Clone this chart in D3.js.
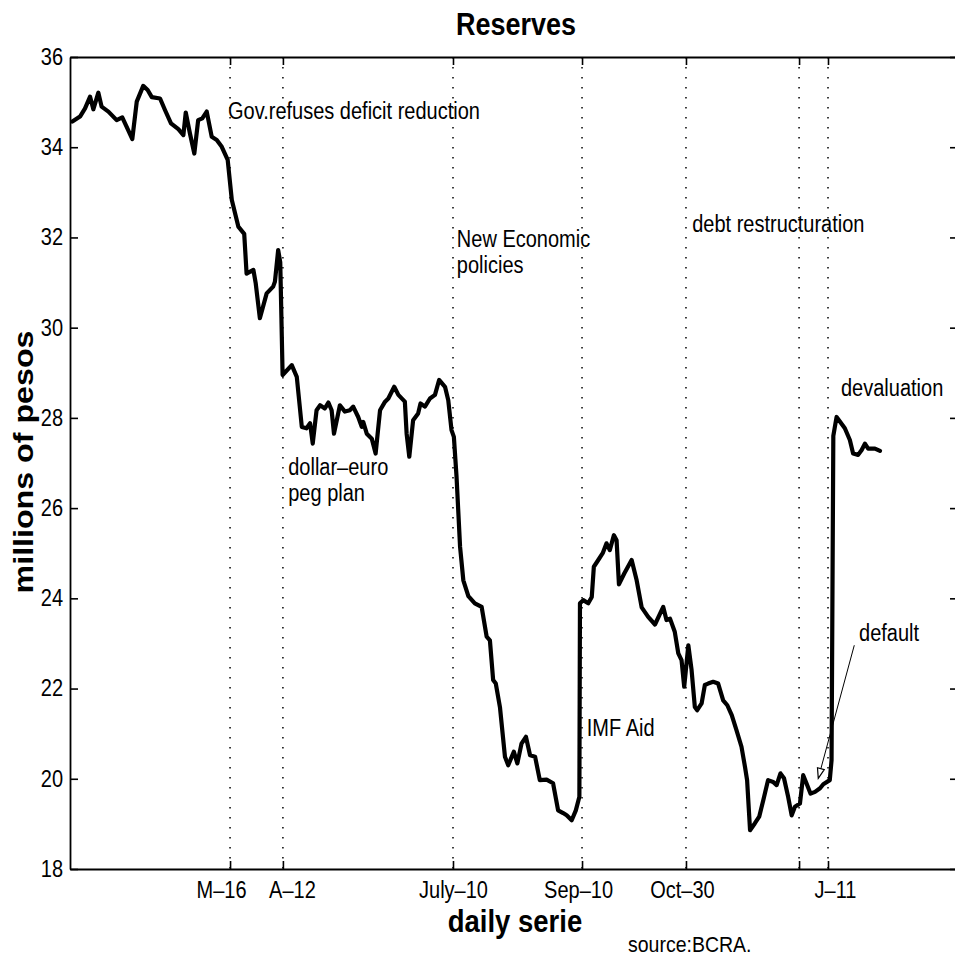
<!DOCTYPE html>
<html>
<head>
<meta charset="utf-8">
<script src="https://cdn.jsdelivr.net/npm/d3@7"></script>
<style>
  body { margin: 0; background: #fff; overflow: hidden; }
  text { font-family: "Liberation Sans", Arial, Helvetica, sans-serif; fill: #000; }
</style>
</head>
<body>
<script>
const width = 955;
const height = 960;

// daily reserves: [trading day, millions of pesos]
const reserves = [
  [0.8, 34.57], [3.4, 34.68], [5.1, 34.86], [6.8, 35.12], [7.9, 34.84], [9.6, 35.21],
  [10.7, 34.90], [13.0, 34.79], [15.8, 34.60], [17.7, 34.66], [19.7, 34.38], [21.1, 34.18],
  [22.6, 35.01], [24.8, 35.36], [26.3, 35.27], [27.7, 35.11], [30.5, 35.08], [32.2, 34.82],
  [34.2, 34.53], [36.7, 34.40], [38.4, 34.27], [39.2, 34.77], [40.6, 34.31], [42.1, 33.86],
  [43.4, 34.60], [44.8, 34.64], [46.3, 34.79], [48.0, 34.23], [49.7, 34.16], [51.4, 34.01],
  [53.4, 33.72], [54.8, 32.83], [57.0, 32.24], [59.0, 32.08], [59.8, 31.20], [62.1, 31.28],
  [62.9, 30.98], [64.3, 30.21], [66.6, 30.76], [68.8, 30.91], [69.4, 31.02], [70.5, 31.72],
  [71.2, 31.45], [72.0, 28.95], [75.1, 29.17], [76.8, 28.91], [78.5, 27.80], [80.1, 27.77],
  [81.3, 27.88], [82.2, 27.43], [83.5, 28.17], [84.7, 28.28], [86.3, 28.21], [87.5, 28.34],
  [88.6, 28.17], [89.4, 27.65], [91.4, 28.28], [93.1, 28.14], [94.8, 28.17], [95.9, 28.25],
  [97.6, 28.02], [98.8, 27.80], [99.3, 27.91], [100.5, 27.65], [102.2, 27.54], [103.5, 27.21],
  [105.0, 28.17], [106.7, 28.36], [107.8, 28.43], [109.8, 28.69], [111.2, 28.51], [113.4, 28.36],
  [114.0, 27.65], [114.9, 27.14], [116.2, 27.95], [117.9, 28.10], [118.7, 28.32], [120.2, 28.25],
  [121.9, 28.43], [123.6, 28.51], [125.0, 28.84], [127.0, 28.69], [128.1, 28.39], [129.2, 27.73],
  [130.0, 27.58], [130.9, 26.70], [132.1, 25.14], [133.2, 24.40], [134.9, 24.05], [137.1, 23.89],
  [139.4, 23.81], [141.1, 23.15], [142.2, 23.07], [143.3, 22.19], [144.2, 22.11], [145.6, 21.59],
  [147.3, 20.49], [148.4, 20.30], [150.3, 20.60], [151.5, 20.34], [152.9, 20.78], [154.4, 20.93],
  [155.8, 20.52], [157.5, 20.49], [159.1, 19.97], [161.4, 19.98], [163.6, 19.90], [165.3, 19.30],
  [167.0, 19.24], [168.2, 19.19], [169.9, 19.08], [171.3, 19.30], [172.5, 19.60], [172.7, 23.89],
  [173.8, 23.96], [175.5, 23.89], [176.7, 24.03], [177.4, 24.70], [178.9, 24.85], [180.4, 25.00],
  [181.7, 25.22], [182.8, 25.07], [184.2, 25.40], [185.1, 25.29], [185.9, 24.31], [187.7, 24.55],
  [190.2, 24.85], [191.9, 24.40], [193.6, 23.80], [195.8, 23.59], [198.1, 23.42], [200.9, 23.81],
  [202.0, 23.52], [203.2, 23.55], [204.8, 23.26], [206.0, 22.78], [207.1, 22.63], [208.0, 22.04],
  [209.4, 22.96], [210.5, 22.41], [211.6, 21.59], [212.4, 21.52], [213.9, 21.67], [215.0, 22.08],
  [216.1, 22.11], [217.8, 22.15], [219.5, 22.11], [221.2, 21.74], [222.6, 21.63], [224.1, 21.41],
  [225.7, 21.08], [227.4, 20.71], [228.6, 20.26], [229.3, 19.97], [230.3, 18.86], [231.9, 19.01],
  [233.4, 19.16], [234.8, 19.53], [236.4, 19.97], [238.1, 19.93], [239.3, 19.86], [240.6, 20.12],
  [241.8, 20.01], [243.2, 19.60], [244.4, 19.19], [245.5, 19.38], [247.2, 19.45], [248.3, 20.08],
  [249.4, 19.90], [250.8, 19.67], [252.3, 19.71], [254.0, 19.79], [255.1, 19.88], [257.3, 19.97],
  [257.9, 20.41], [258.5, 27.60], [259.6, 28.02], [262.4, 27.77], [264.1, 27.51], [265.2, 27.21],
  [266.9, 27.18], [268.1, 27.29], [269.2, 27.43], [270.3, 27.32], [272.6, 27.32], [274.3, 27.27]
];

const tickDays = [54.2, 72.1, 129.7, 173.4, 208.6, 246.9, 256.7];
const tickLabels = ["M\u201316", "A\u201312", "July\u201310", "Sep\u201310", "Oct\u201330", "", "J\u201311"];
const yTicks = [18, 20, 22, 24, 26, 28, 30, 32, 34, 36];

// annotations, anchored in data units (day, value of first baseline)
const notes = [
  { lines: ["Gov.refuses deficit reduction"], day: 53.5, value: 34.62 },
  { lines: ["New Economic", "policies"], day: 131.0, value: 31.79 },
  { lines: ["debt restructuration"], day: 210.7, value: 32.13 },
  { lines: ["dollar\u2013euro", "peg plan"], day: 73.9, value: 26.73 },
  { lines: ["IMF Aid"], day: 175.0, value: 20.94 },
  { lines: ["devaluation"], day: 261.1, value: 28.48 },
  { lines: ["default"], day: 267.2, value: 23.06 }
];
const defaultArrow = { from: [265.6, 22.96], to: [253.4, 20.01] };

// the right edge of the frame sits just past the picture, as in the scan
const x = d3.scaleLinear().domain([0, 301.4]).range([70, 960]);
const y = d3.scaleLinear().domain([18, 36]).range([869, 57]);

const stretch = 1.15; // glyphs in the scan are a bit taller than wide

const svg = d3.select("body")
  .append("svg")
  .attr("width", width)
  .attr("height", height);

// dotted event lines
svg.append("g")
  .selectAll("line")
  .data(tickDays)
  .join("line")
  .attr("x1", d => x(d))
  .attr("x2", d => x(d))
  .attr("y1", y(36))
  .attr("y2", y(18))
  .attr("stroke", "#111")
  .attr("stroke-width", 1.6)
  .attr("stroke-dasharray", "1.6 8.4");

function styleAxis(g) {
  g.attr("font-family", null).attr("font-size", 20);
  g.select(".domain").attr("stroke", "#000").attr("stroke-width", 1.8);
  g.selectAll(".tick line").attr("stroke", "#000").attr("stroke-width", 1.6);
  g.selectAll(".tick text").attr("fill", "#000").attr("transform", `scale(1,${stretch})`);
}

// labels in the scan sit slightly off their ticks
const labelNudge = { "M\u201316": -9, "A\u201312": 9, "Sep\u201310": -4, "Oct\u201330": -4, "J\u201311": 7 };

svg.append("g")
  .attr("transform", `translate(0,${y(18)})`)
  .call(d3.axisBottom(x).tickValues(tickDays).tickFormat((d, i) => tickLabels[i])
    .tickSizeInner(-8).tickSizeOuter(0).tickPadding(11))
  .call(styleAxis)
  .call(g => g.selectAll(".tick text").attr("dx", function () {
    return labelNudge[this.textContent] || 0;
  }));

svg.append("g")
  .attr("transform", `translate(0,${y(36)})`)
  .call(d3.axisTop(x).tickValues(tickDays).tickFormat("")
    .tickSizeInner(-8).tickSizeOuter(0))
  .call(styleAxis);

svg.append("g")
  .attr("transform", `translate(${x.range()[0]},0)`)
  .call(d3.axisLeft(y).tickValues(yTicks).tickFormat(d3.format("d"))
    .tickSizeInner(-8).tickSizeOuter(0).tickPadding(7))
  .call(styleAxis);

svg.append("g")
  .attr("transform", `translate(${x.range()[1] - 2},0)`)
  .call(d3.axisRight(y).tickValues(yTicks).tickFormat("")
    .tickSizeInner(-8).tickSizeOuter(0))
  .call(styleAxis);

// the series
const line = d3.line()
  .x(d => x(d[0]))
  .y(d => y(d[1]));

svg.append("path")
  .datum(reserves)
  .attr("d", line)
  .attr("fill", "none")
  .attr("stroke", "#000")
  .attr("stroke-width", 4.2)
  .attr("stroke-linejoin", "round")
  .attr("stroke-linecap", "round");

function put(str, px, py, size, bold, anchor) {
  return svg.append("text")
    .attr("transform", `translate(${px},${py}) scale(1,${stretch})`)
    .attr("font-size", size)
    .attr("font-weight", bold ? "bold" : null)
    .attr("text-anchor", anchor || "start")
    .text(str);
}

// annotations
notes.forEach(n => {
  n.lines.forEach((s, i) => put(s, x(n.day), y(n.value) + i * 26, 20));
});

// arrow to the default point
const ax1 = x(defaultArrow.from[0]), ay1 = y(defaultArrow.from[1]);
const ax2 = x(defaultArrow.to[0]), ay2 = y(defaultArrow.to[1]);
const ang = Math.atan2(ay2 - ay1, ax2 - ax1);
svg.append("line")
  .attr("x1", ax1).attr("y1", ay1)
  .attr("x2", ax2 - 9 * Math.cos(ang)).attr("y2", ay2 - 9 * Math.sin(ang))
  .attr("stroke", "#000")
  .attr("stroke-width", 1);
const head = [
  [ax2, ay2],
  [ax2 - 10 * Math.cos(ang) + 3.5 * Math.sin(ang), ay2 - 10 * Math.sin(ang) - 3.5 * Math.cos(ang)],
  [ax2 - 10 * Math.cos(ang) - 3.5 * Math.sin(ang), ay2 - 10 * Math.sin(ang) + 3.5 * Math.cos(ang)]
];
svg.append("path")
  .attr("d", "M" + head.join("L") + "Z")
  .attr("fill", "#fff")
  .attr("stroke", "#000")
  .attr("stroke-width", 1.2);

// titles
put("Reserves", 516, 35, 27, true, "middle");
put("daily serie", 515, 932, 27.5, true, "middle");
put("source:BCRA.", 628, 952, 19.5, false, "start");

svg.append("text")
  .attr("transform", `translate(33,462) rotate(-90) scale(${stretch},1)`)
  .attr("font-size", 28)
  .attr("font-weight", "bold")
  .attr("text-anchor", "middle")
  .text("millions of pesos");
</script>
</body>
</html>
